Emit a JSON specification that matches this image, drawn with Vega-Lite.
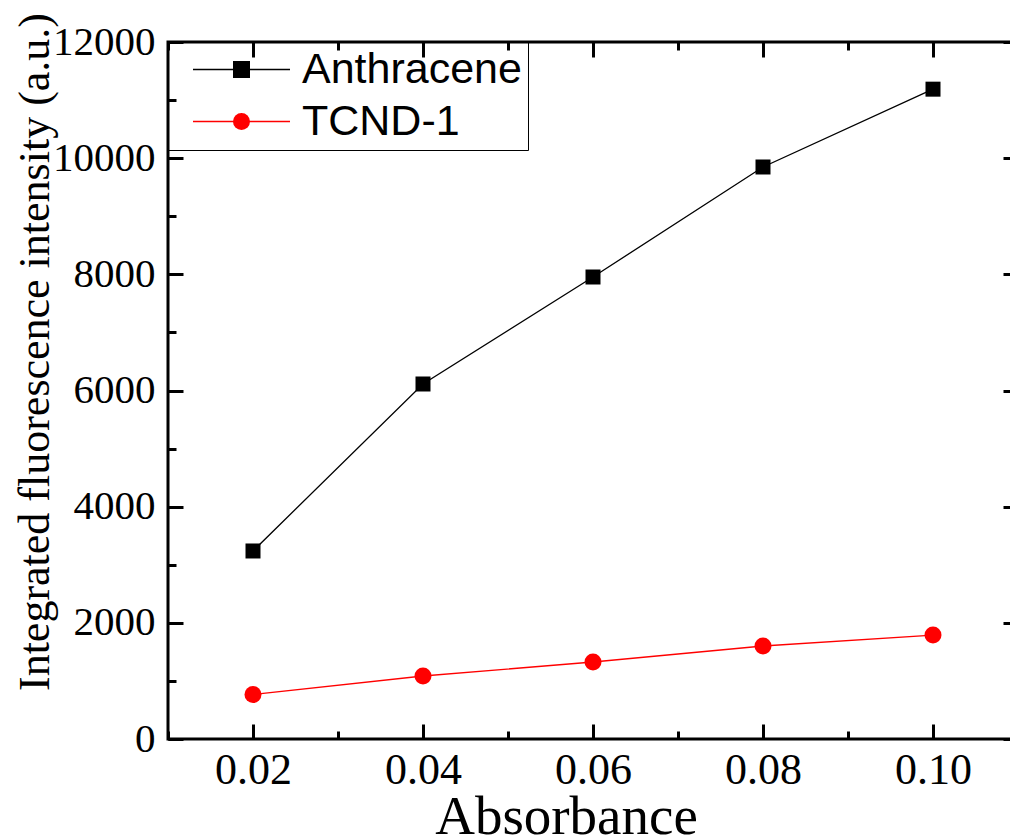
{
  "$schema": "https://vega.github.io/schema/vega-lite/v6.json",
  "autosize": {"type": "none"},
  "padding": {"left": 168, "top": 42, "right": 0, "bottom": 99},
  "width": 850,
  "height": 697,
  "background": "white",
  "config": {
    "view": {"stroke": "black", "strokeWidth": 3},
    "axis": {"domain": false, "grid": false, "tickColor": "black", "tickWidth": 3, "labelColor": "black", "titleColor": "black"}
  },
  "data": {
    "values": [
      {"absorbance": 0.02, "intensity": 3237, "series": "Anthracene"},
      {"absorbance": 0.04, "intensity": 6112, "series": "Anthracene"},
      {"absorbance": 0.06, "intensity": 7954, "series": "Anthracene"},
      {"absorbance": 0.08, "intensity": 9848, "series": "Anthracene"},
      {"absorbance": 0.10, "intensity": 11188, "series": "Anthracene"},
      {"absorbance": 0.02, "intensity": 765, "series": "TCND-1"},
      {"absorbance": 0.04, "intensity": 1085, "series": "TCND-1"},
      {"absorbance": 0.06, "intensity": 1326, "series": "TCND-1"},
      {"absorbance": 0.08, "intensity": 1601, "series": "TCND-1"},
      {"absorbance": 0.10, "intensity": 1790, "series": "TCND-1"}
    ]
  },
  "resolve": {"axis": {"x": "independent", "y": "independent"}, "legend": {"color": "independent", "shape": "independent"}},
  "layer": [
    {
      "mark": {"type": "line", "strokeWidth": 1.3},
      "encoding": {
        "x": {
          "field": "absorbance", "type": "quantitative",
          "scale": {"domain": [0.01, 0.11], "nice": false, "zero": false},
          "axis": {
            "orient": "bottom", "values": [0.02, 0.04, 0.06, 0.08, 0.10], "format": ".2f",
            "tickSize": -15, "labelPadding": 24,
            "labelFont": "Liberation Serif", "labelFontSize": 44,
            "title": "Absorbance", "titleFont": "Liberation Serif", "titleFontSize": 55, "titleFontWeight": "normal",
            "titleX": 398, "titleY": 94, "titleBaseline": "alphabetic", "titleAlign": "center"
          }
        },
        "y": {
          "field": "intensity", "type": "quantitative",
          "scale": {"domain": [0, 12000], "nice": false},
          "axis": {
            "orient": "left", "values": [0, 2000, 4000, 6000, 8000, 10000, 12000], "format": "d",
            "tickSize": -15, "labelPadding": 28,
            "labelFont": "Liberation Serif", "labelFontSize": 41,
            "title": "Integrated fluorescence intensity (a.u.)", "titleFont": "Liberation Serif", "titleFontSize": 44, "titleFontWeight": "normal",
            "titleX": -120, "titleY": 309.5, "titleBaseline": "alphabetic", "titleAlign": "center", "titleAngle": -90
          }
        },
        "color": {
          "field": "series", "type": "nominal",
          "scale": {"domain": ["Anthracene", "TCND-1"], "range": ["#000000", "#ff0000"]},
          "legend": {
            "orient": "none", "legendX": 0, "legendY": 0, "title": null,
            "strokeColor": "black", "padding": 6, "clipHeight": 43,
            "rowPadding": 8, "symbolType": "stroke", "symbolSize": 9409, "symbolOffset": 18, "labelOffset": 11,
            "symbolStrokeWidth": 1.3, "labelLimit": 600,
            "labelFont": "Liberation Sans", "labelFontSize": 43, "labelColor": "black"
          }
        }
      }
    },
    {
      "mark": {"type": "point", "filled": true, "opacity": 1},
      "encoding": {
        "x": {
          "field": "absorbance", "type": "quantitative",
          "axis": {"orient": "bottom", "values": [0.01, 0.02, 0.03, 0.04, 0.05, 0.06, 0.07, 0.08, 0.09, 0.10, 0.11], "tickSize": -8, "labels": false, "title": null}
        },
        "y": {
          "field": "intensity", "type": "quantitative",
          "axis": {"orient": "left", "values": [0, 1000, 2000, 3000, 4000, 5000, 6000, 7000, 8000, 9000, 10000, 11000, 12000], "tickSize": -8, "labels": false, "title": null}
        },
        "color": {
          "field": "series", "type": "nominal",
          "legend": {
            "orient": "none", "legendX": 0, "legendY": 0, "title": null,
            "padding": 6, "clipHeight": 43,
            "rowPadding": 8, "symbolSize": 289, "symbolOffset": 46, "labelOffset": 39,
            "labelLimit": 600, "labelOpacity": 0,
            "labelFont": "Liberation Sans", "labelFontSize": 43, "labelColor": "black"
          }
        },
        "shape": {
          "field": "series", "type": "nominal",
          "scale": {"domain": ["Anthracene", "TCND-1"], "range": ["square", "circle"]},
          "legend": {
            "orient": "none", "legendX": 0, "legendY": 0, "title": null,
            "padding": 6, "clipHeight": 43,
            "rowPadding": 8, "symbolSize": 289, "symbolOffset": 46, "labelOffset": 39,
            "labelLimit": 600, "labelOpacity": 0,
            "labelFont": "Liberation Sans", "labelFontSize": 43, "labelColor": "black"
          }
        },
        "size": {"field": "series", "type": "nominal", "scale": {"domain": ["Anthracene", "TCND-1"], "range": [225, 289]}, "legend": null}
      }
    },
    {
      "mark": {"type": "point", "opacity": 0},
      "encoding": {
        "x": {
          "field": "absorbance", "type": "quantitative",
          "axis": {"orient": "top", "values": [0.02, 0.04, 0.06, 0.08, 0.10], "tickSize": -15, "labels": false, "title": null}
        },
        "y": {
          "field": "intensity", "type": "quantitative",
          "axis": {"orient": "right", "values": [0, 2000, 4000, 6000, 8000, 10000, 12000], "tickSize": -15, "labels": false, "title": null}
        }
      }
    },
    {
      "mark": {"type": "point", "opacity": 0},
      "encoding": {
        "x": {
          "field": "absorbance", "type": "quantitative",
          "axis": {"orient": "top", "values": [0.01, 0.02, 0.03, 0.04, 0.05, 0.06, 0.07, 0.08, 0.09, 0.10, 0.11], "tickSize": -8, "labels": false, "title": null}
        },
        "y": {
          "field": "intensity", "type": "quantitative",
          "axis": {"orient": "right", "values": [0, 1000, 2000, 3000, 4000, 5000, 6000, 7000, 8000, 9000, 10000, 11000, 12000], "tickSize": -8, "labels": false, "title": null}
        }
      }
    }
  ]
}
